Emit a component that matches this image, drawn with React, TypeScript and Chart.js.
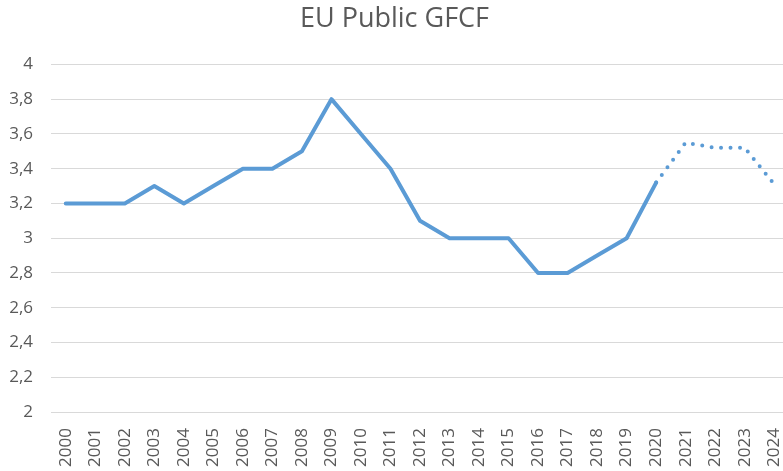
import React, { useEffect, useRef } from "react";
import { Chart, registerables } from "chart.js";

Chart.register(...registerables);

const years = [
  "2000", "2001", "2002", "2003", "2004", "2005", "2006", "2007", "2008", "2009",
  "2010", "2011", "2012", "2013", "2014", "2015", "2016", "2017", "2018", "2019",
  "2020", "2021", "2022", "2023", "2024",
];
const gfcf = [
  3.2, 3.2, 3.2, 3.3, 3.2, 3.3, 3.4, 3.4, 3.5, 3.8,
  3.6, 3.4, 3.1, 3.0, 3.0, 3.0, 2.8, 2.8, 2.9, 3.0,
  3.32, 3.55, 3.52, 3.52, 3.31,
];
const forecastStartIndex = 20;

export default function App() {
  const ref = useRef<HTMLCanvasElement | null>(null);
  useEffect(() => {
    document.body.style.margin = "0";
    const font = "'Open Sans', 'Liberation Sans', sans-serif";
    const chart = new Chart(ref.current as HTMLCanvasElement, {
      type: "line",
      data: {
        labels: years,
        datasets: [
          {
            data: gfcf,
            borderColor: "#5B9BD5",
            borderWidth: 4,
            borderCapStyle: "round",
            borderJoinStyle: "round",
            pointRadius: 0,
            tension: 0,
            fill: false,
            clip: false,
            segment: {
              borderDash: (ctx: any) =>
                ctx.p0DataIndex >= forecastStartIndex ? [0, 9.5] : undefined,
            },
          },
        ],
      },
      options: {
        animation: false,
        responsive: false,
        layout: { padding: { left: 0, right: 0, top: 3, bottom: 0 } },
        plugins: {
          legend: { display: false },
          tooltip: { enabled: false },
          title: {
            display: true,
            text: "EU Public GFCF",
            color: "#595959",
            font: { family: font, size: 27, weight: "normal" },
            padding: { top: 0, bottom: 29 },
          },
        },
        scales: {
          x: {
            offset: true,
            grid: { display: false, drawTicks: false },
            border: { display: true, color: "#d9d9d9", width: 1 },
            ticks: {
              minRotation: 90,
              maxRotation: 90,
              autoSkip: false,
              color: "#595959",
              padding: 16,
              font: { family: font, size: 17 },
            },
            afterFit: (s: any) => {
              s.paddingLeft = 0;
              s.paddingRight = 0;
              s.height = 59;
            },
          },
          y: {
            min: 2,
            max: 4,
            grid: { color: "#d9d9d9", lineWidth: 1, drawTicks: false },
            border: { display: false },
            ticks: {
              stepSize: 0.2,
              color: "#595959",
              padding: 18,
              font: { family: font, size: 17 },
              callback: (v: any) => {
                const n = Math.round(Number(v) * 10) / 10;
                return String(n).replace(".", ",");
              },
            },
            afterFit: (s: any) => {
              s.width = 51;
            },
          },
        },
      },
    } as any);
    return () => chart.destroy();
  }, []);
  return (
    <div style={{ width: 783, height: 471, overflow: "hidden" }}>
      <canvas ref={ref} width={789} height={471} />
    </div>
  );
}
